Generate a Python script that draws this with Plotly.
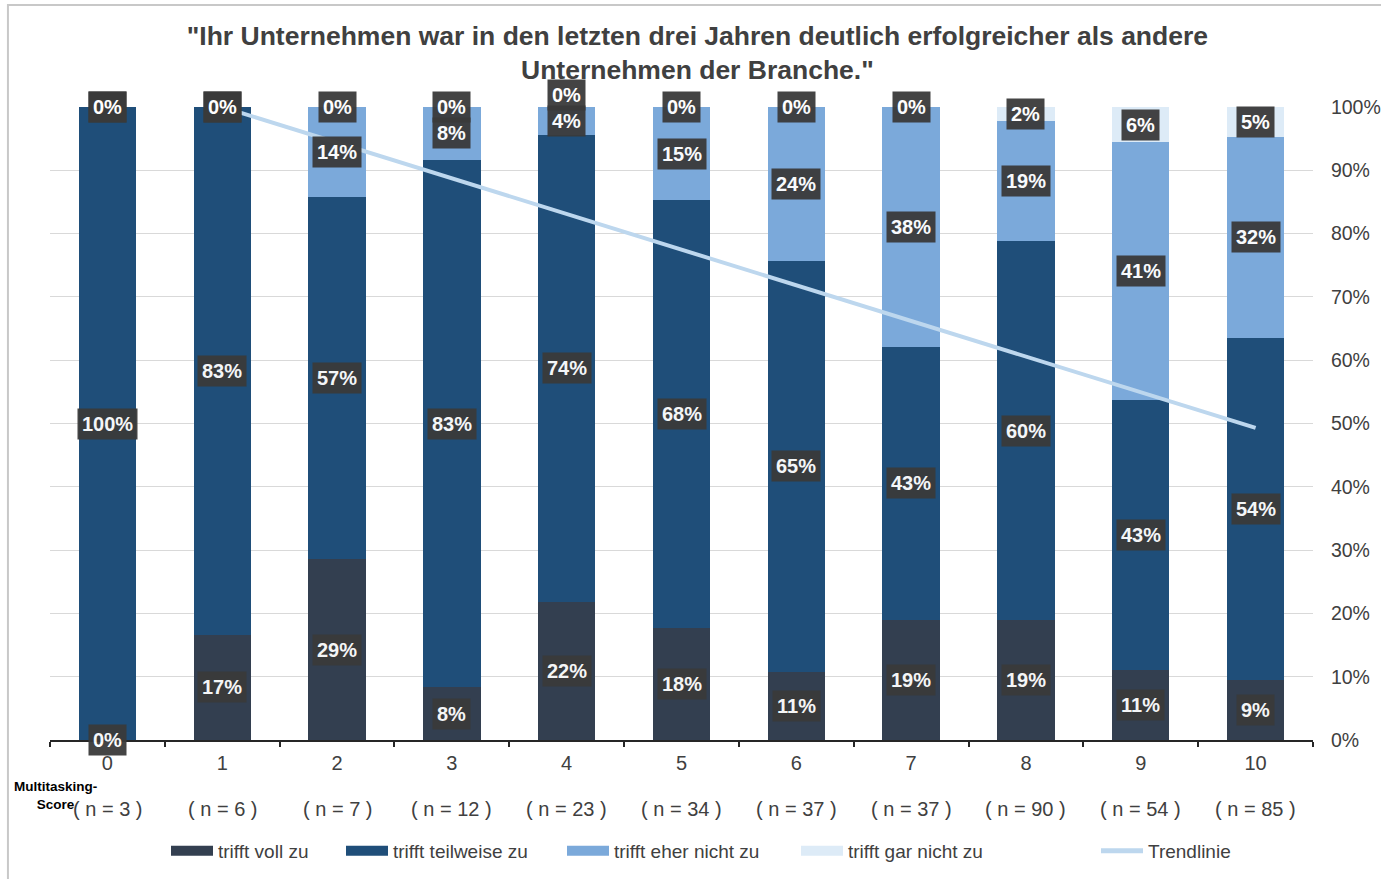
import plotly.graph_objects as go

categories = ["0", "1", "2", "3", "4", "5", "6", "7", "8", "9", "10"]
n_values = [3, 6, 7, 12, 23, 34, 37, 37, 90, 54, 85]
# answer counts per score group (derived from shown percentages and n)
voll_zu = [0, 1, 2, 1, 5, 6, 4, 7, 17, 6, 8]
teilweise_zu = [3, 5, 4, 10, 17, 23, 24, 16, 54, 23, 46]
eher_nicht_zu = [0, 0, 1, 1, 1, 5, 9, 14, 17, 22, 27]
gar_nicht_zu = [0, 0, 0, 0, 0, 0, 0, 0, 2, 3, 4]
series_names = ["trifft voll zu", "trifft teilweise zu", "trifft eher nicht zu", "trifft gar nicht zu"]
trend_x = ["1", "10"]
trend_y = [100, 49.3]
y_ticks = [0, 10, 20, 30, 40, 50, 60, 70, 80, 90, 100]

title_text = '"Ihr Unternehmen war in den letzten drei Jahren deutlich erfolgreicher als andere<br>Unternehmen der Branche."'

colors = ["#333F50", "#1F4E79", "#7BA9DA", "#DDEBF7"]
trend_color = "#BDD7EE"
FONT = "Liberation Sans, Arial, sans-serif"
TXT = "#404040"
Y_MAX = 100.0

series_counts = [voll_zu, teilweise_zu, eher_nicht_zu, gar_nicht_zu]
series_pct = [[c / n * 100 for c, n in zip(s, n_values)] for s in series_counts]

fig = go.Figure()
for name, vals, col in zip(series_names, series_pct, colors):
    fig.add_trace(go.Bar(
        x=categories, y=vals, name=name, marker=dict(color=col, line=dict(width=0)),
        width=0.5, showlegend=False,
    ))

fig.add_trace(go.Scatter(
    x=trend_x, y=trend_y, mode="lines", name="Trendlinie",
    line=dict(color=trend_color, width=4), showlegend=False,
))

# legend proxies, one legend per entry so they can be spaced like the original
legend_ids = ["legend", "legend2", "legend3", "legend4", "legend5"]
legend_x_px = [170, 345, 566, 800, 1100]
for name, col, lid in zip(series_names, colors, legend_ids[:4]):
    fig.add_trace(go.Scatter(
        x=[None], y=[None], mode="lines", name=name,
        line=dict(color=col, width=11), legend=lid,
    ))
fig.add_trace(go.Scatter(
    x=[None], y=[None], mode="lines", name="Trendlinie",
    line=dict(color=trend_color, width=5), legend="legend5",
))

annotations = []
for i, cat in enumerate(categories):
    base = 0.0
    prev_y = None
    prev_val = None
    for k, vals in enumerate(series_pct):
        v = vals[i]
        y = base + v / 2
        if prev_y is not None and 0 < (y - prev_y) < 4 and prev_val > 0:
            y = prev_y + 4
        annotations.append(dict(
            x=cat, y=y / Y_MAX, xref="x", yref="paper", yanchor="middle", xanchor="center",
            text=f"{round(v):.0f}%",
            showarrow=False, font=dict(family=FONT, size=20, color="white", weight="bold"),
            bgcolor="#3A3A3A", borderpad=4, opacity=0.95,
        ))
        prev_y = y
        prev_val = v
        base += v

for cat, n in zip(categories, n_values):
    annotations.append(dict(
        x=cat, y=-0.109, xref="x", yref="paper", text=f"( n = {n} )",
        showarrow=False, font=dict(family=FONT, size=20, color=TXT), yanchor="middle",
    ))

annotations.append(dict(
    x=0.004, y=-0.087, xref="paper", yref="paper", text="<b>Multitasking-<br>Score</b>",
    showarrow=False, font=dict(family=FONT, size=13.5, color="black"),
    xanchor="center", yanchor="middle", align="center",
))

legend_common = dict(
    orientation="h", yanchor="middle", y=-0.175, xanchor="left",
    font=dict(family=FONT, size=19, color=TXT), bgcolor="rgba(0,0,0,0)",
    itemwidth=42,
)
layout_legends = {}
for lid, px in zip(legend_ids, legend_x_px):
    layout_legends[lid] = dict(legend_common, x=(px - 50 - 4) / 1263)

fig.update_layout(
    width=1381, height=879,
    margin=dict(l=50, r=68, t=107, b=139, autoexpand=False),
    paper_bgcolor="white", plot_bgcolor="white",
    barmode="stack",
    title=dict(
        text=title_text, x=0.505, xanchor="center", y=0.9488, yanchor="top",
        font=dict(family=FONT, size=26.5, color=TXT, weight="bold"),
    ),
    font=dict(family=FONT, color=TXT),
    xaxis=dict(
        type="category", categoryorder="array", categoryarray=categories,
        range=[-0.5, 10.5], tickson="boundaries", ticks="outside", ticklen=5,
        tickcolor="#262626", tickwidth=2, automargin=False,
        showline=True, linecolor="#262626", linewidth=2, showgrid=False,
        tickfont=dict(family=FONT, size=20, color=TXT), ticklabelstandoff=4,
    ),
    yaxis=dict(
        side="right", range=[0, Y_MAX], tickvals=y_ticks, ticktext=[f"{t}%" for t in y_ticks],
        showgrid=True, gridcolor="#D9D9D9", gridwidth=1, zeroline=False, showline=False,
        ticks="outside", ticklen=13, tickcolor="rgba(0,0,0,0)", automargin=False,
        tickfont=dict(family=FONT, size=19.5, color=TXT),
    ),
    annotations=annotations,
    shapes=[dict(
        type="rect", xref="paper", yref="paper",
        x0=-0.0333, y0=-0.35, x1=1.2, y1=1.161,
        line=dict(color="#C8C8C8", width=2), fillcolor="rgba(0,0,0,0)", layer="below",
    )],
    **layout_legends,
)

fig.write_html("out.html", config={"displayModeBar": False},
               post_script="document.body.style.margin='0';")
